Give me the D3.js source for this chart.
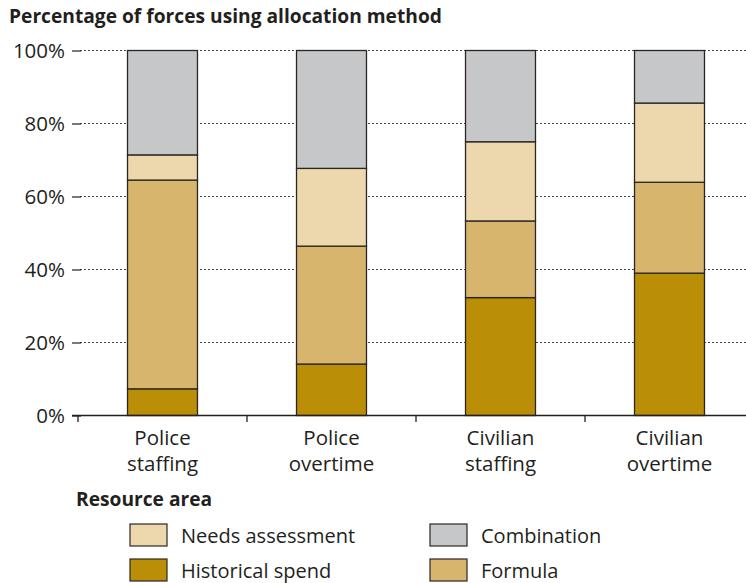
<!DOCTYPE html>
<html><head><meta charset="utf-8">
<script src="https://cdn.jsdelivr.net/npm/d3@7"></script>
<style>body{margin:0;background:#fff}svg{display:block}text{font-family:"Open Sans",sans-serif;fill:#231f20}</style>
</head><body><svg id="c" width="746" height="583"></svg>
<script>
const categories = [["Police","staffing"],["Police","overtime"],["Civilian","staffing"],["Civilian","overtime"]];
const seriesNames = ["Historical spend","Formula","Needs assessment","Combination"];
const historical = [7.3, 14.1, 32.3, 39.0];
const formula = [57.2, 32.3, 21.0, 24.9];
const needs = [6.9, 21.3, 21.7, 21.7];
const combination = [28.6, 32.3, 25.0, 14.4];
const yTicks = [0,20,40,60,80,100];
const colors = {"Historical spend":"#ba8f07","Formula":"#d7b56d","Needs assessment":"#ecd8ac","Combination":"#c6c7c9"};

const svg = d3.select("#c");
const keys = categories.map(c=>c.join(" "));
const data = keys.map((k,i)=>({key:k,"Historical spend":historical[i],"Formula":formula[i],"Needs assessment":needs[i],"Combination":combination[i]}));
const x = d3.scaleBand().domain(keys).range([78,754]).paddingInner(0.586).paddingOuter(0.293);
const y = d3.scaleLinear().domain([0,100]).range([415.5,50.5]);

svg.append("text").attr("x",9).attr("y",23).style("font-weight","bold").style("font-size","19.2px").text("Percentage of forces using allocation method");

// gridlines
const g = svg.append("g");
g.selectAll("line.grid").data(yTicks.filter(d=>d>0)).join("line")
 .attr("x1",80).attr("x2",746).attr("y1",d=>y(d)).attr("y2",d=>y(d))
 .attr("stroke","#444").attr("stroke-width",1.2).attr("stroke-dasharray","2,2");
// y axis ticks
const yAxis = d3.axisLeft(y).tickValues(yTicks).tickFormat(d=>d+"%").tickSize(9).tickPadding(7);
const ya = svg.append("g").attr("transform","translate(81,0)").call(yAxis);
ya.select(".domain").remove();
ya.selectAll(".tick line").attr("stroke","#231f20").attr("stroke-width",1.2);
ya.selectAll(".tick text").style("font-size","20.5px").style("font-family","'Open Sans',sans-serif").attr("fill","#231f20");

// stacks
const stack = d3.stack().keys(seriesNames)(data);
svg.append("g").selectAll("g").data(stack).join("g").attr("fill",d=>colors[d.key])
 .selectAll("rect").data(d=>d).join("rect")
 .attr("x",d=>x(d.data.key)).attr("width",x.bandwidth())
 .attr("y",d=>y(d[1])).attr("height",d=>y(d[0])-y(d[1]))
 .attr("stroke","#2b2623").attr("stroke-width",1.3);

// x axis
const xb = d3.scaleLinear().domain([0,4]).range([78,754]);
svg.append("line").attr("x1",72).attr("x2",746).attr("y1",415.5).attr("y2",415.5).attr("stroke","#231f20").attr("stroke-width",1.3);
svg.append("g").selectAll("line").data([0,1,2,3]).join("line")
 .attr("x1",d=>xb(d)).attr("x2",d=>xb(d)).attr("y1",415.5).attr("y2",422).attr("stroke","#231f20").attr("stroke-width",1.3);
const xl = svg.append("g").selectAll("text").data(categories).join("text")
 .attr("x",(d,i)=>x(keys[i])+x.bandwidth()/2).attr("text-anchor","middle").style("font-size","20.5px");
xl.append("tspan").attr("x",(d,i)=>x(keys[i])+x.bandwidth()/2).attr("y",445).text(d=>d[0]);
xl.append("tspan").attr("x",(d,i)=>x(keys[i])+x.bandwidth()/2).attr("y",471).text(d=>d[1]);

// legend
svg.append("text").attr("x",76).attr("y",506).style("font-weight","bold").style("font-size","19.2px").text("Resource area");
const legendItems = [["Needs assessment",0,0],["Combination",1,0],["Historical spend",0,1],["Formula",1,1]];
const lg = svg.append("g").selectAll("g").data(legendItems).join("g")
 .attr("transform",d=>`translate(${d[1]?430:130},${d[2]?559:524})`);
lg.append("rect").attr("width",37).attr("height",22).attr("fill",d=>colors[d[0]]).attr("stroke","#2b2623").attr("stroke-width",1.2);
lg.append("text").attr("x",51).attr("y",19).style("font-size","20px").text(d=>d[0]);
</script></body></html>
